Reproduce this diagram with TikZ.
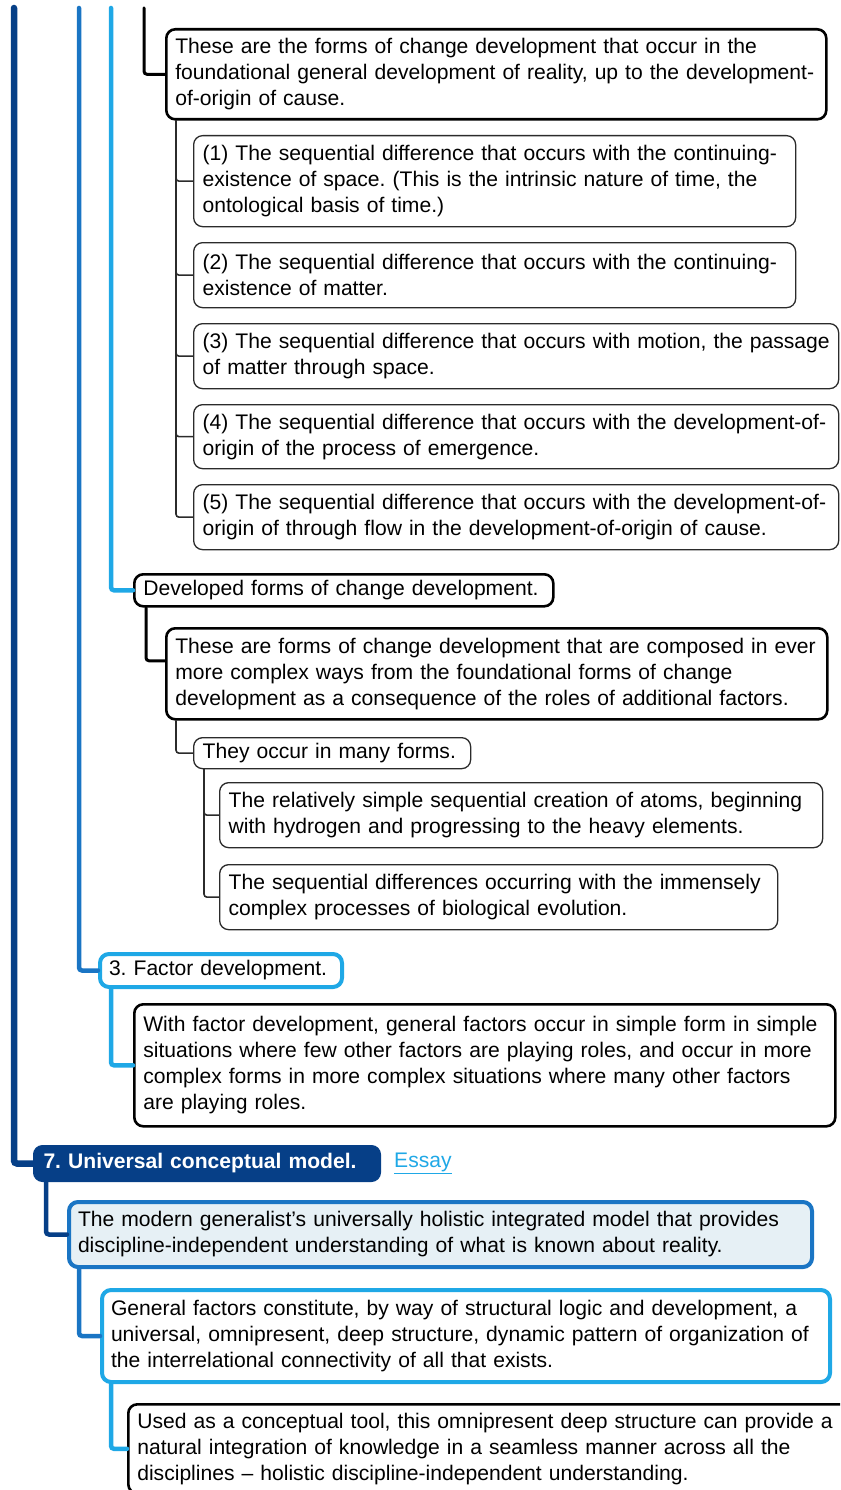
\documentclass[tikz,border=0pt]{standalone}
\usepackage{fontspec}
\setmainfont{Liberation Sans}
\definecolor{dkblue}{HTML}{063F87}
\definecolor{mdblue}{HTML}{1A75C4}
\definecolor{ltblue}{HTML}{1FA8E6}
\definecolor{fillF}{HTML}{E6F0F5}
\definecolor{thinc}{HTML}{2B2B2B}
\frenchspacing
\begin{document}
\begin{tikzpicture}[x=1pt,y=-1pt,
  every node/.style={font=\fontsize{21.1}{26}\selectfont, inner sep=0pt},
  bx/.style={rounded corners=9pt, anchor=north west, align=left, inner xsep=9pt, inner ysep=0pt, fill=white},
  bkbox/.style={bx, draw=black, line width=2.6pt},
  thinbox/.style={bx, draw=thinc, line width=1.3pt},
  ltbox/.style={bx, draw=ltblue, line width=4pt},
  conn/.style={rounded corners=3pt, line cap=round},
  bkconn/.style={conn, draw=black, line width=3pt},
  thinconn/.style={conn, draw=thinc, line width=1.6pt},
  ltconn/.style={conn, draw=ltblue, line width=4.5pt},
  mdconn/.style={conn, draw=mdblue, line width=4.5pt},
  dkconn/.style={conn, draw=dkblue, line width=4.5pt},
  dktop/.style={conn, draw=dkblue, line width=6.5pt}
]
\useasboundingbox (0,0) rectangle (840,1490);
\clip (0,0) rectangle (840,1490);

\coordinate (t1) at (14,8);
\coordinate (t2) at (79,8);
\coordinate (t3) at (111,8);
\coordinate (t4) at (144,8);

% boxes
\node[bkbox, text width=642pt, minimum height=90pt] (A) at (165,28)
 {\mbox{These are the forms of change development that occur in the}\\
  \mbox{foundational general development of reality, up to the development-}\\
  \mbox{of-origin of cause.}};
\node[thinbox, text width=584pt, minimum height=91pt] (b1) at (193,135)
 {\mbox{(1) The sequential difference that occurs with the continuing-}\\
  \mbox{existence of space. (This is the intrinsic nature of time, the}\\
  \mbox{ontological basis of time.)}};
\node[thinbox, text width=584pt, minimum height=65pt] (b2) at (193,242)
 {\mbox{(2) The sequential difference that occurs with the continuing-}\\
  \mbox{existence of matter.}};
\node[thinbox, text width=627pt, minimum height=65pt] (b3) at (193,323)
 {\mbox{(3) The sequential difference that occurs with motion, the passage}\\
  \mbox{of matter through space.}};
\node[thinbox, text width=627pt, minimum height=64pt] (b4) at (193,404)
 {\mbox{(4) The sequential difference that occurs with the development-of-}\\
  \mbox{origin of the process of emergence.}};
\node[thinbox, text width=627pt, minimum height=65pt] (b5) at (193,484)
 {\mbox{(5) The sequential difference that occurs with the development-of-}\\
  \mbox{origin of through flow in the development-of-origin of cause.}};
\node[bkbox, text width=401pt, minimum height=32pt] (Dev) at (133,573)
 {\mbox{Developed forms of change development.}};
\node[bkbox, text width=643pt, minimum height=91pt] (B) at (165,627)
 {\mbox{These are forms of change development that are composed in ever}\\
  \mbox{more complex ways from the foundational forms of change}\\
  \mbox{development as a consequence of the roles of additional factors.}};
\node[thinbox, text width=259pt, minimum height=31pt] (They) at (193,737)
 {\mbox{They occur in many forms.}};
\node[thinbox, text width=585pt, minimum height=65pt] (C) at (219,782)
 {\mbox{The relatively simple sequential creation of atoms, beginning}\\
  \mbox{with hydrogen and progressing to the heavy elements.}};
\node[thinbox, text width=540pt, minimum height=65pt] (D) at (219,864)
 {\mbox{The sequential differences occurring with the immensely}\\
  \mbox{complex processes of biological evolution.}};
\node[ltbox, text width=224pt, minimum height=33pt] (F3) at (98,952)
 {\mbox{3. Factor development.}};
\node[bkbox, text width=683pt, minimum height=122pt] (E) at (133,1003)
 {\mbox{With factor development, general factors occur in simple form in simple}\\
  \mbox{situations where few other factors are playing roles, and occur in more}\\
  \mbox{complex forms in more complex situations where many other factors}\\
  \mbox{are playing roles.}};
\node[bx, fill=dkblue, draw=dkblue, line width=1pt, text=white, text width=327pt, inner xsep=10pt, minimum height=36pt, font=\fontsize{21.1}{26}\selectfont\bfseries] (U7) at (33,1145)
 {\mbox{7. Universal conceptual model.}};
\node[anchor=west, text=ltblue] (essay) at ([xshift=13pt]U7.east) {\underline{Essay}};
\node[bx, fill=fillF, draw=mdblue, line width=4pt, text width=725pt, minimum height=65pt] (F) at (67,1200)
 {\mbox{The modern generalist’s universally holistic integrated model that provides}\\
  \mbox{discipline-independent understanding of what is known about reality.}};
\node[ltbox, text width=710pt, minimum height=92pt] (G) at (100,1288)
 {\mbox{General factors constitute, by way of structural logic and development, a}\\
  \mbox{universal, omnipresent, deep structure, dynamic pattern of organization of}\\
  \mbox{the interrelational connectivity of all that exists.}};
\node[bkbox, text width=707pt, minimum height=89pt] (H) at (127,1403)
 {\mbox{Used as a conceptual tool, this omnipresent deep structure can provide a}\\
  \mbox{natural integration of knowledge in a seamless manner across all the}\\
  \mbox{disciplines – holistic discipline-independent understanding.}};

% connectors
\draw[bkconn] (t4) |- (A.west);
\foreach \n in {b1,b2,b3,b4,b5}
  \draw[thinconn] ([xshift=11pt]A.south west) |- (\n.west);
\draw[ltconn] (t3) |- (Dev.west);
\draw[bkconn] ([xshift=13pt]Dev.south west) |- ([yshift=13pt]B.west);
\draw[thinconn] ([xshift=11pt]B.south west) |- (They.west);
\draw[thinconn] ([xshift=11pt]They.south west) |- (C.west);
\draw[thinconn] ([xshift=11pt]They.south west) |- (D.west);
\draw[mdconn] (t2) |- (F3.west);
\draw[ltconn] ([xshift=13pt]F3.south west) |- (E.west);
\draw[dktop] (t1) |- (U7.west);
\draw[dkconn] ([xshift=13pt]U7.south west) |- (F.west);
\draw[mdconn] ([xshift=12pt]F.south west) |- (G.west);
\draw[ltconn] ([xshift=11pt]G.south west) |- (H.west);
\end{tikzpicture}
\end{document}
